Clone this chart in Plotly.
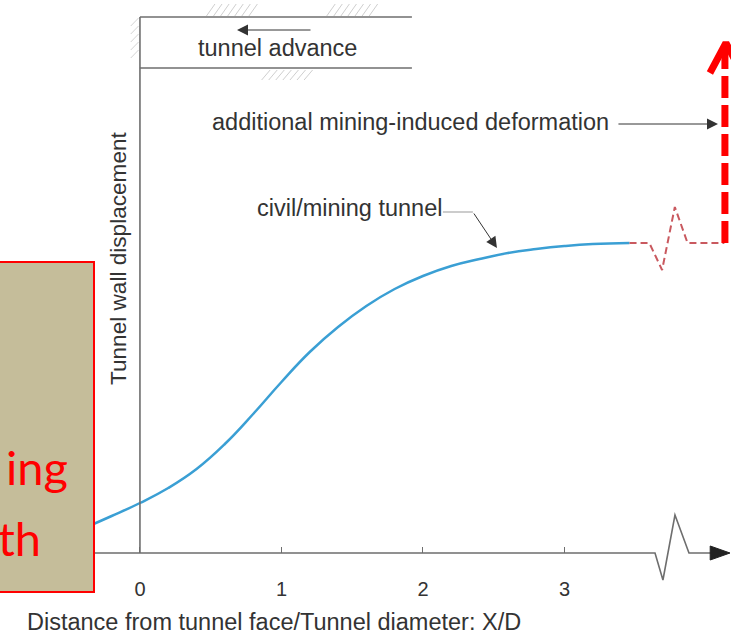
import plotly.graph_objects as go

# Normalised distance from tunnel face (X/D) and wall displacement along the curve
curve_x = [-0.36, -0.2, 0.0, 0.2, 0.4, 0.6, 0.8, 1.0, 1.2, 1.4, 1.6, 1.8, 2.0, 2.2, 2.4, 2.6, 2.8, 3.0, 3.2, 3.46]
curve_y = [0.27, 0.37, 0.50, 0.65, 0.84, 1.09, 1.39, 1.71, 2.01, 2.26, 2.47, 2.64, 2.77, 2.87, 2.94, 3.00, 3.04, 3.07, 3.09, 3.10]

# Continuation beyond the axis break (dashed, with break symbol)
extra_x = [3.46, 3.60, 3.69, 3.78, 3.87, 4.13]
extra_y = [3.10, 3.10, 2.83, 3.46, 3.10, 3.10]

# Additional mining-induced deformation arrow
mining_x = [4.134, 4.134]
mining_y = [3.10, 5.06]

tick_vals = [0, 1, 2, 3]
tick_text = ["0", "1", "2", "3"]

FONT = "Liberation Sans, Arial, sans-serif"
GREY = "#6e6e6e"
TXT = "#333333"
TS = 23.5

fig = go.Figure()

fig.add_trace(go.Scatter(x=curve_x, y=curve_y, mode="lines",
                         line=dict(color="#3a9fd4", width=2.5, shape="spline", smoothing=1.3),
                         hoverinfo="skip", showlegend=False))
fig.add_trace(go.Scatter(x=extra_x, y=extra_y, mode="lines",
                         line=dict(color="#c9595f", width=2, dash="7px,4px"),
                         hoverinfo="skip", showlegend=False))
fig.add_trace(go.Scatter(x=mining_x, y=mining_y, mode="lines",
                         line=dict(color="#ff0000", width=7, dash="22px,7px"),
                         hoverinfo="skip", showlegend=False))
fig.add_trace(go.Scatter(x=[4.028, 4.141, 4.254], y=[4.80, 5.10, 4.80], mode="lines",
                         line=dict(color="#ff0000", width=7),
                         hoverinfo="skip", showlegend=False))

shapes = []
# x axis with break symbol and arrow head
shapes.append(dict(type="path", xref="x", yref="y",
                   path="M -1.0,0 L 3.64,0 L 3.696,-0.27 L 3.781,0.38 L 3.88,0 L 4.07,0",
                   line=dict(color=GREY, width=1.6), layer="above"))
shapes.append(dict(type="path", xref="x", yref="y",
                   path="M 4.03,0.07 L 4.17,0 L 4.03,-0.07 Z",
                   fillcolor="#222", line=dict(color="#222", width=1), layer="above"))
# vertical axis at tunnel face
shapes.append(dict(type="line", xref="x", yref="y", x0=0, x1=0, y0=0, y1=5.36,
                   line=dict(color=GREY, width=1.6), layer="above"))
# tunnel walls
for wy in (5.36, 4.85):
    shapes.append(dict(type="line", xref="x", yref="y", x0=0, x1=1.922, y0=wy, y1=wy,
                       line=dict(color=GREY, width=1.6), layer="above"))

# rock hatching along the tunnel outline
def hatch(xs, y0, y1, dx):
    p = ""
    for x in xs:
        p += f"M {x:.3f},{y0:.3f} L {x + dx:.3f},{y1:.3f} "
    return p

hpath = hatch([0.47 + 0.05 * i for i in range(7)], 5.37, 5.49, 0.06)
hpath += hatch([1.32 + 0.05 * i for i in range(7)], 5.37, 5.49, 0.06)
hpath += hatch([0.86 + 0.05 * i for i in range(7)], 4.73, 4.83, 0.06)
shapes.append(dict(type="path", xref="x", yref="y", path=hpath,
                   line=dict(color="#cfcfcf", width=1), layer="below"))
for yy in [4.95, 5.03, 5.11, 5.19, 5.27]:
    shapes.append(dict(type="line", xref="x", yref="y", x0=-0.065, x1=-0.01,
                       y0=yy, y1=yy + 0.08, line=dict(color="#d4d4d4", width=1), layer="below"))

# leader line segment for the curve label
shapes.append(dict(type="line", xref="x", yref="y", x0=2.141, x1=2.353, y0=3.41, y1=3.41,
                   line=dict(color="#999", width=1)))

# overlay box on the left
shapes.append(dict(type="rect", xref="paper", yref="paper", x0=-0.02, x1=94 / 731,
                   y0=1 - 592 / 639, y1=1 - 262 / 639,
                   fillcolor="#c5bd9a", line=dict(color="#ff0000", width=2), layer="above"))

arrow = dict(showarrow=True, arrowhead=2, arrowsize=2.2, arrowwidth=1, arrowcolor="#333",
             text="", xref="x", yref="y", axref="x", ayref="y")

annotations = [
    dict(x=0.972, y=5.05, xref="x", yref="y", text="tunnel advance", showarrow=False,
         font=dict(family=FONT, size=TS, color=TXT)),
    dict(x=0.686, y=5.23, ax=1.216, ay=5.23, **arrow),
    dict(x=0.495, y=4.31, xref="x", yref="y", xanchor="left",
         text="additional mining-induced deformation", showarrow=False,
         font=dict(family=FONT, size=TS, color=TXT)),
    dict(x=4.085, y=4.29, ax=3.371, ay=4.29, **arrow),
    dict(x=0.813, y=3.45, xref="x", yref="y", xanchor="left",
         text="civil/mining tunnel", showarrow=False,
         font=dict(family=FONT, size=TS, color=TXT)),
    dict(x=2.523, y=3.05, ax=2.353, ay=3.41, **arrow),
    dict(x=-0.155, y=2.95, xref="x", yref="y", text="Tunnel wall displacement",
         textangle=-90, showarrow=False, font=dict(family=FONT, size=22.6, color=TXT)),
    dict(x=-0.813, y=-0.69, xref="x", yref="y", xanchor="left",
         text="Distance from tunnel face/Tunnel diameter: X/D", showarrow=False,
         font=dict(family=FONT, size=TS, color=TXT)),
    dict(x=70 / 731, y=1 - 497 / 639, xref="paper", yref="paper", xanchor="right",
         text="ing", showarrow=False, font=dict(family="Lato, sans-serif", size=47, color="#ff0000")),
    dict(x=43 / 731, y=1 - 568 / 639, xref="paper", yref="paper", xanchor="right",
         text="th", showarrow=False, font=dict(family="Lato, sans-serif", size=47, color="#ff0000")),
]

fig.update_layout(
    width=731, height=639,
    margin=dict(l=0, r=0, t=0, b=0),
    paper_bgcolor="white", plot_bgcolor="white",
    showlegend=False,
    shapes=shapes, annotations=annotations,
    xaxis=dict(range=[-0.989, 4.177], anchor="free", position=86 / 639,
               showgrid=False, zeroline=False, showline=False,
               tickvals=tick_vals, ticktext=tick_text, ticks="inside", ticklen=6,
               tickcolor=GREY, tickfont=dict(family=FONT, size=20, color=TXT),
               ticklabelstandoff=22),
    yaxis=dict(range=[-0.86, 5.53], visible=False),
)

fig.write_html("out.html")
